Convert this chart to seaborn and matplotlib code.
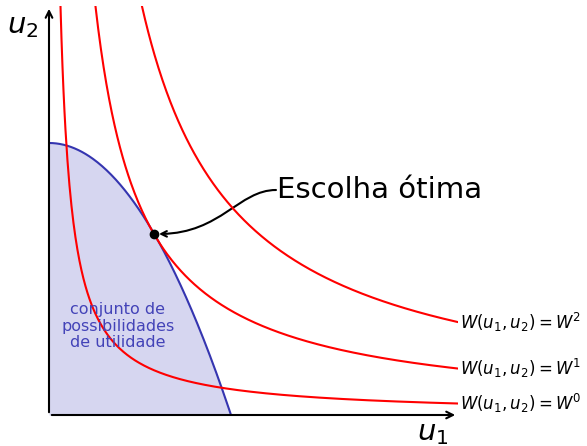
import numpy as np
import matplotlib.pyplot as plt
import seaborn as sns
from matplotlib.patches import FancyArrowPatch
from matplotlib.path import Path

# fronteira de possibilidades: u2 = u2_max * (1 - (u1/u1_max)^2)
u1_max = 1.82
u2_max = 2.72

# curvas de indiferenca u1 * u2 = nivel
niveis = [0.47, 1.9, 3.8]
rotulos = [r"$W(u_1,u_2) = W^0$", r"$W(u_1,u_2) = W^1$", r"$W(u_1,u_2) = W^2$"]

# ponto de escolha otima
otimo_u1 = 1.05
otimo_u2 = 1.81

x_max = 4.09
y_max = 4.09

sns.set_theme(style="white")
plt.rcParams['font.family'] = ['DejaVu Sans']
plt.rcParams['text.color'] = 'black'

fig = plt.figure(figsize=(5.87, 4.46), dpi=100)
ax = fig.add_axes([49 / 587, 31 / 446, 409 / 587, 409 / 446])

# conjunto de possibilidades
xf = np.linspace(0, u1_max, 200)
yf = u2_max * (1 - (xf / u1_max) ** 2)
ax.fill_between(xf, 0, yf, color="#d6d6f0", lw=0)
sns.lineplot(x=xf, y=yf, ax=ax, color="#3535b0", lw=1.5, sort=False)

# curvas de indiferenca
for k, rot in zip(niveis, rotulos):
    xs = np.linspace(k / y_max, x_max, 400)
    sns.lineplot(x=xs, y=k / xs, ax=ax, color="red", lw=1.5, sort=False)
    ax.text(x_max + 0.02, k / x_max, rot, fontsize=12, va="center", ha="left",
            color="black", clip_on=False)

ax.text(0.69, 0.89, "conjunto de\npossibilidades\nde utilidade", color="#4343b8",
        fontsize=11.5, ha="center", va="center", linespacing=1.15)

# ponto otimo e anotacao
ax.plot([otimo_u1], [otimo_u2], "o", color="black", ms=6, zorder=5)
ax.text(2.28, 2.25, "Escolha ótima", fontsize=21, ha="left", va="center",
        color="black")
caminho = Path([(2.27, 2.25), (1.90, 2.25), (1.72, 1.82), (1.10, 1.81)],
               [Path.MOVETO, Path.CURVE4, Path.CURVE4, Path.CURVE4])
ax.add_patch(FancyArrowPatch(path=caminho, arrowstyle="->", mutation_scale=10,
                             color="black", lw=1.5))

# eixos com setas
ax.set_xlim(0, x_max)
ax.set_ylim(0, y_max)
for s in ax.spines.values():
    s.set_visible(False)
ax.set_xticks([])
ax.set_yticks([])
ax.annotate("", xy=(x_max, 0), xytext=(0, 0),
            arrowprops=dict(arrowstyle="->", color="black", lw=1.5),
            annotation_clip=False)
ax.annotate("", xy=(0, y_max), xytext=(0, 0),
            arrowprops=dict(arrowstyle="->", color="black", lw=1.5),
            annotation_clip=False)
ax.text(-0.42, y_max - 0.2, r"$u_2$", fontsize=21, ha="left", va="center",
        color="black", clip_on=False)
ax.text(3.68, -0.18, r"$u_1$", fontsize=21, ha="left", va="center",
        color="black", clip_on=False)

fig.savefig("out.png", dpi=100)
